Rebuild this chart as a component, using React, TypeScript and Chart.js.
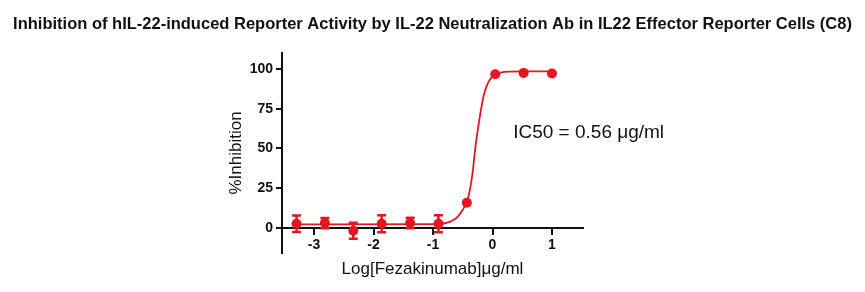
import React, { useEffect, useRef } from "react";
import { Chart, registerables } from "chart.js";

Chart.register(...registerables);

// Log10 concentration (µg/ml), 3-fold dilutions from 10 µg/ml
const logConc = [-3.294, -2.817, -2.34, -1.863, -1.385, -0.908, -0.431, 0.046, 0.523, 1.0];
// Mean % inhibition
const inhibition = [2.7, 3.1, -1.7, 2.7, 3.1, 2.7, 15.9, 96.7, 97.5, 97.1];
// Error (±)
const errorBar = [5.2, 3.2, 5.0, 5.3, 3.3, 5.3, 0, 0, 0, 0];

// Fitted curve
const curveX = [-3.35, -1.0, -0.9, -0.8, -0.7, -0.6, -0.5, -0.43, -0.38, -0.33, -0.29, -0.25, -0.2, -0.15, -0.1, -0.04, 0.05, 0.15, 0.3, 0.5, 1.0];
const curveY = [2.3, 2.4, 2.6, 3.0, 4.2, 6.5, 11.5, 16.5, 24, 36, 50, 61, 73, 83, 89, 93.5, 96.5, 97.8, 98.3, 98.5, 98.5];

const xTicks = [-3, -2, -1, 0, 1];
const yTicks = [0, 25, 50, 75, 100];

const chartTitle =
  "Inhibition of hIL-22-induced Reporter Activity by IL-22 Neutralization Ab in IL22 Effector Reporter Cells (C8)";
const xTitle = "Log[Fezakinumab]\u03bcg/ml";
const yTitle = "%Inhibition";
const ic50Label = "IC50 = 0.56 \u03bcg/ml";

const RED = "rgb(228, 22, 32)";
const FONT = '"Liberation Sans", Arial, Helvetica, sans-serif';

const errorBarPlugin = {
  id: "errorBars",
  beforeDatasetsDraw(chart: any) {
    const { ctx } = chart;
    const xs = chart.scales.x;
    const ys = chart.scales.y;
    ctx.save();
    ctx.strokeStyle = RED;
    ctx.lineWidth = 2.5;
    logConc.forEach((lx, i) => {
      const e = errorBar[i];
      if (!e) return;
      const px = xs.getPixelForValue(lx);
      const top = ys.getPixelForValue(inhibition[i] + e);
      const bot = ys.getPixelForValue(inhibition[i] - e);
      ctx.beginPath();
      ctx.moveTo(px, top);
      ctx.lineTo(px, bot);
      ctx.moveTo(px - 4.5, top);
      ctx.lineTo(px + 4.5, top);
      ctx.moveTo(px - 4.5, bot);
      ctx.lineTo(px + 4.5, bot);
      ctx.stroke();
    });
    ctx.restore();
  },
};

const annotationPlugin = {
  id: "ic50Text",
  afterDraw(chart: any) {
    const { ctx } = chart;
    const xs = chart.scales.x;
    const ys = chart.scales.y;
    ctx.save();
    ctx.fillStyle = "#111";
    ctx.font = `19px ${FONT}`;
    ctx.textAlign = "left";
    ctx.textBaseline = "middle";
    ctx.fillText(ic50Label, xs.getPixelForValue(0.348), ys.getPixelForValue(59.7));
    ctx.restore();
  },
};

export default function App() {
  const ref = useRef<HTMLCanvasElement | null>(null);

  useEffect(() => {
    if (!ref.current) return;
    const chart = new Chart(ref.current, {
      type: "scatter",
      data: {
        datasets: [
          {
            type: "line",
            data: curveX.map((x, i) => ({ x, y: curveY[i] })),
            borderColor: RED,
            borderWidth: 1.8,
            pointRadius: 0,
            fill: false,
            cubicInterpolationMode: "monotone",
            order: 2,
          } as any,
          {
            data: logConc.map((x, i) => ({ x, y: inhibition[i] })),
            backgroundColor: RED,
            borderColor: RED,
            borderWidth: 0,
            pointRadius: 5,
            showLine: false,
            order: 1,
          },
        ],
      },
      options: {
        responsive: false,
        animation: false,
        layout: { padding: { top: 0, bottom: 39, left: 0, right: 0 } },
        plugins: {
          legend: { display: false },
          tooltip: { enabled: false },
          title: {
            display: true,
            text: chartTitle,
            color: "#111",
            font: { family: FONT, size: 16.5, weight: "bold", lineHeight: 1.2 },
            padding: { top: 15, bottom: 18.2 },
          },
        },
        scales: {
          x: {
            type: "linear",
            position: { y: 0 } as any,
            min: -3.538,
            max: 1.521,
            afterBuildTicks: (s: any) => {
              s.ticks = xTicks.map((v) => ({ value: v }));
            },
            ticks: {
              color: "#111",
              font: { family: FONT, size: 14, weight: "bold" },
              padding: 3,
              maxRotation: 0,
              callback: (v: any) => String(v),
            },
            grid: {
              display: true,
              drawOnChartArea: false,
              drawTicks: true,
              tickLength: 6,
              color: "#111",
              lineWidth: 2,
            },
            border: { display: true, color: "#111", width: 2 },
            title: {
              display: true,
              text: xTitle,
              color: "#111",
              font: { family: FONT, size: 17, lineHeight: 1.2 },
              padding: { top: 2, bottom: 0 },
            },
          },
          y: {
            type: "linear",
            position: "left",
            min: -15.7,
            max: 110,
            afterBuildTicks: (s: any) => {
              s.ticks = yTicks.map((v) => ({ value: v }));
            },
            afterFit: (s: any) => {
              s.width = 282;
            },
            ticks: {
              color: "#111",
              font: { family: FONT, size: 14, weight: "bold" },
              padding: 3,
              callback: (v: any) => String(v),
            },
            grid: {
              display: true,
              drawOnChartArea: false,
              drawTicks: true,
              tickLength: 6,
              color: "#111",
              lineWidth: 2,
            },
            border: { display: true, color: "#111", width: 2 },
            title: {
              display: true,
              text: yTitle,
              color: "#111",
              font: { family: FONT, size: 17, lineHeight: 1.2 },
              padding: { top: 225.8, bottom: 0 },
            },
          },
          yR: {
            type: "linear",
            position: "right",
            display: true,
            afterFit: (s: any) => {
              s.width = 282;
            },
            ticks: { display: false },
            grid: { display: false },
            border: { display: false },
          },
        },
      },
      plugins: [errorBarPlugin, annotationPlugin],
    } as any);
    return () => chart.destroy();
  }, []);

  return (
    <div style={{ position: "absolute", left: 0, top: 0, width: 865, height: 292, background: "#fff" }}>
      <canvas ref={ref} width={865} height={292} style={{ display: "block" }} />
    </div>
  );
}
